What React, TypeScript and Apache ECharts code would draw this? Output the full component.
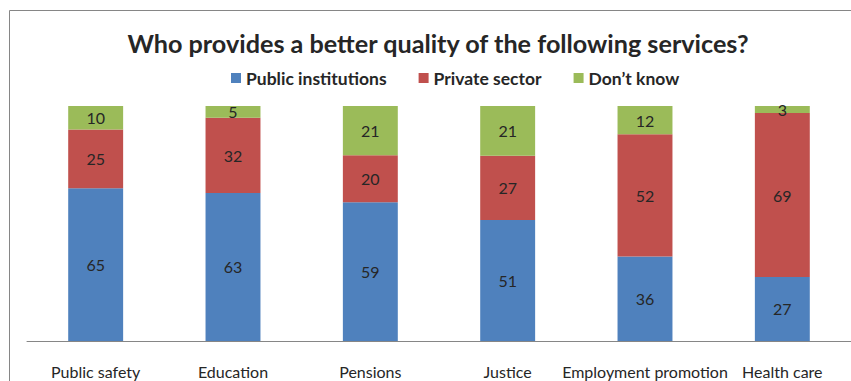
import React, { useEffect, useRef } from "react";
import * as echarts from "echarts";

const categories = ["Public safety", "Education", "Pensions", "Justice", "Employment promotion", "Health care"];
const publicInstitutions = [65, 63, 59, 51, 36, 27];
const privateSector = [25, 32, 20, 27, 52, 69];
const dontKnow = [10, 5, 21, 21, 12, 3];
const seriesNames = ["Public institutions", "Private sector", "Don\u2019t know"];
const colors = ["#4F81BD", "#C0504D", "#9BBB59"];

const FONT = "Lato";

export default function App() {
  const ref = useRef<HTMLDivElement>(null);
  useEffect(() => {
    if (!ref.current) return;
    const chart = echarts.init(ref.current, undefined, { renderer: "svg" });
    const all = [publicInstitutions, privateSector, dontKnow];
    const totals = categories.map((_, i) => all.reduce((s, arr) => s + arr[i], 0));
    const series = all.map((arr, k) => ({
      name: seriesNames[k],
      type: "bar",
      stack: "total",
      barWidth: "40%",
      itemStyle: { color: colors[k] },
      label: {
        show: true,
        position: "inside",
        color: "#262626",
        fontFamily: FONT,
        fontSize: 16,
        formatter: (p: any) => String(arr[p.dataIndex]),
      },
      data: arr.map((v, i) => (v / totals[i]) * 100),
    }));
    chart.setOption({
      animation: false,
      backgroundColor: "#ffffff",
      title: {
        text: "Who provides a better quality of the following services?",
        left: 433,
        textAlign: "center",
        top: 25,
        textStyle: { fontFamily: FONT, fontWeight: "bold", fontSize: 25.2, color: "#262626" },
      },
      legend: {
        left: 226,
        top: 64,
        itemWidth: 10,
        itemHeight: 10,
        itemGap: 32,
        icon: "rect",
        textStyle: { fontFamily: FONT, fontWeight: "bold", fontSize: 17.5, color: "#262626" },
        data: seriesNames,
      },
      grid: { left: 27, right: -8, top: 106, bottom: 40 },
      xAxis: {
        type: "category",
        data: categories,
        axisLine: { lineStyle: { color: "#868686", width: 1 } },
        axisTick: { show: false },
        axisLabel: { interval: 0, margin: 22, fontFamily: FONT, fontSize: 16, color: "#262626" },
      },
      yAxis: { type: "value", min: 0, max: 100, show: false, splitLine: { show: false } },
      graphic: [
        {
          type: "rect",
          shape: { x: 9.5, y: 10.5, width: 900, height: 500 },
          style: { fill: "none", stroke: "#868686", lineWidth: 1 },
          silent: true,
        },
      ],
      series,
    });
    return () => chart.dispose();
  }, []);
  return (
    <div
      ref={ref}
      style={{ position: "fixed", left: 0, top: 0, width: 851, height: 381 }}
    />
  );
}
